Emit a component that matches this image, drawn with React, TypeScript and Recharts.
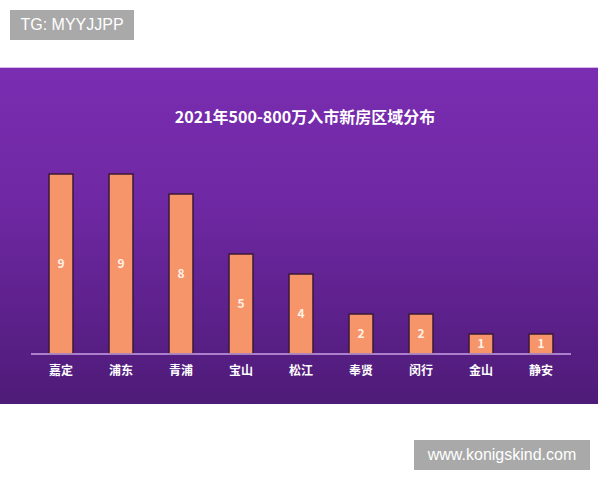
import { BarChart, Bar, XAxis, YAxis, LabelList } from "recharts"

const districts = ["嘉定", "浦东", "青浦", "宝山", "松江", "奉贤", "闵行", "金山", "静安"]
const counts = [9, 9, 8, 5, 4, 2, 2, 1, 1]
const title = "2021年500-800万入市新房区域分布"

const COLORS = {
  bar: "#F7956A",
  barEdge: "#3B1838",
  axis: "#C9A2E6",
  label: "#FFF1E6",
  text: "#FFFFFF",
  stamp: "#A9A9A9",
}

const FONT = "'Noto Sans CJK SC', 'Noto Sans', sans-serif"

const data = districts.map((name, i) => ({ name, count: counts[i] }))

function DistrictTick({ x, y, payload }: { x?: number; y?: number; payload?: { value: string } }) {
  return (
    <text
      x={x}
      y={y}
      dy={19}
      textAnchor="middle"
      fill={COLORS.text}
      fontSize={12}
      fontWeight={700}
      fontFamily={FONT}
    >
      {payload?.value}
    </text>
  )
}

export default function App() {
  return (
    <div style={{ position: "absolute", left: 0, top: 0, width: 600, height: 480, background: "#fff", overflow: "hidden" }}>
      <div
        style={{
          position: "absolute", left: 10, top: 10, width: 124, height: 30,
          background: COLORS.stamp, color: "#fff", fontFamily: "'Liberation Sans', Arial, sans-serif",
          fontSize: 16, lineHeight: "30px", textAlign: "center",
        }}
      >
        TG: MYYJJPP
      </div>
      <div
        style={{
          position: "absolute", left: 0, top: 67, width: 598, height: 336,
          background: "linear-gradient(180deg, #7A2DB1 0%, #6F28A3 40%, #4E1B78 100%)",
          borderTop: "1px solid #D9B8F0",
        }}
      />
      <div
        style={{
          position: "absolute", left: 0, top: 104, width: 610, textAlign: "center",
          color: COLORS.text, fontFamily: FONT, fontWeight: 700, fontSize: 16, lineHeight: "24px",
        }}
      >
        {title}
      </div>
      <div style={{ position: "absolute", left: 0, top: 0 }}>
        <BarChart
          width={600}
          height={480}
          data={data}
          margin={{ top: 174, right: 29, bottom: 96, left: 31 }}
          barSize={24}
        >
          <XAxis
            dataKey="name"
            height={30}
            axisLine={{ stroke: COLORS.axis, strokeWidth: 1.5 }}
            tickLine={false}
            tickSize={0}
            tick={<DistrictTick />}
            interval={0}
          />
          <YAxis hide domain={[0, 9]} />
          <Bar
            dataKey="count"
            fill={COLORS.bar}
            stroke={COLORS.barEdge}
            strokeWidth={1.5}
            isAnimationActive={false}
          >
            <LabelList
              dataKey="count"
              position="center"
              fill={COLORS.label}
              fontSize={12}
              fontWeight={700}
              fontFamily={FONT}
            />
          </Bar>
        </BarChart>
      </div>
      <div
        style={{
          position: "absolute", left: 414, top: 440, width: 176, height: 30,
          background: COLORS.stamp, color: "#fff", fontFamily: "'Liberation Sans', Arial, sans-serif",
          fontSize: 16, lineHeight: "30px", textAlign: "center",
        }}
      >
        www.konigskind.com
      </div>
    </div>
  )
}
